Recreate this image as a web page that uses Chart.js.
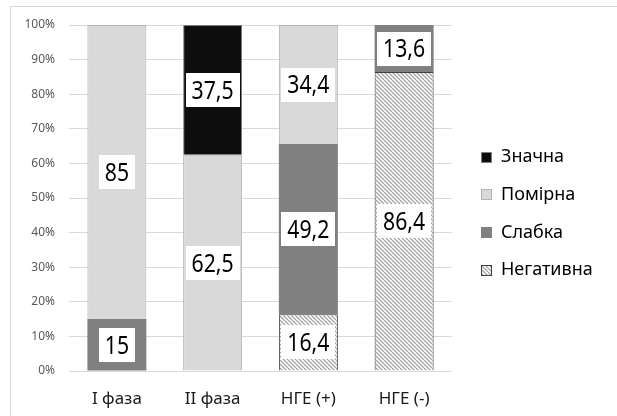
<!DOCTYPE html>
<html>
<head>
<meta charset="utf-8">
<script src="https://cdn.jsdelivr.net/npm/chart.js@4/dist/chart.umd.min.js"></script>
<style>
  html, body { margin: 0; padding: 0; background: #fff; }
  #c { display: block; }
</style>
</head>
<body>
<canvas id="c" width="617" height="416"></canvas>
<script>
// Categories (x axis)
const categories = ['I фаза', 'II фаза', 'НГЕ (+)', 'НГЕ (-)'];

// Share of each response level per group, %
const negative = [0, 0, 16.4, 86.4];
const weak     = [15, 0, 49.2, 13.6];
const moderate = [85, 62.5, 34.4, 0];
const strong   = [0, 37.5, 0, 0];

// Series names, bottom of stack first
const seriesNames = ['Негативна', 'Слабка', 'Помірна', 'Значна'];

// Value axis range
const yMin = 0;
const yMax = 100;
const yStep = 10;

const FONT = '"Noto Sans", "Open Sans", sans-serif';

// Diagonal hatch fill for the "Негативна" series
function makeHatch(ctx) {
  const t = document.createElement('canvas');
  t.width = 8; t.height = 8;
  const g = t.getContext('2d');
  g.fillStyle = '#ffffff';
  g.fillRect(0, 0, 8, 8);
  g.strokeStyle = '#a6a6a6';
  g.lineWidth = 1.3;
  for (let c = -8; c <= 8; c += 4) {
    g.beginPath();
    g.moveTo(0, c);
    g.lineTo(8, c + 8);
    g.stroke();
  }
  return ctx.createPattern(t, 'repeat');
}

const canvas = document.getElementById('c');
const ctx = canvas.getContext('2d');
const hatch = makeHatch(ctx);

// Light frame around the figure
const framePlugin = {
  id: 'frame',
  beforeDraw(chart) {
    const c = chart.ctx;
    c.save();
    c.fillStyle = '#ffffff';
    c.fillRect(0, 0, chart.width, chart.height);
    c.strokeStyle = '#d9d9d9';
    c.lineWidth = 1;
    c.strokeRect(10.5, 6.5, chart.width + 20, chart.height + 20);
    c.restore();
  }
};

// Value labels in white boxes at the middle of each segment
// (text is drawn slightly condensed horizontally)
const valueLabels = {
  id: 'valueLabels',
  afterDatasetsDraw(chart) {
    const c = chart.ctx;
    const size = 25;
    const squeeze = 0.85;
    c.save();
    c.font = size + 'px ' + FONT;
    c.textAlign = 'center';
    c.textBaseline = 'alphabetic';
    chart.data.datasets.forEach((ds, di) => {
      const meta = chart.getDatasetMeta(di);
      meta.data.forEach((bar, i) => {
        const v = ds.data[i];
        if (!v) return;
        const txt = String(v).replace('.', ',');
        const w = c.measureText(txt).width * squeeze + 12;
        const h = 34;
        const cx = bar.x;
        const cy = (bar.y + bar.base) / 2;
        c.fillStyle = '#ffffff';
        c.fillRect(Math.round(cx - w / 2), Math.round(cy - h / 2), Math.round(w), h);
        c.save();
        c.translate(cx, cy + size * 0.714 / 2);
        c.scale(squeeze, 1);
        c.fillStyle = '#000000';
        c.fillText(txt, 0, 0);
        c.restore();
      });
    });
    c.restore();
  }
};

// Legend on the right, top series first
const sideLegend = {
  id: 'sideLegend',
  afterDraw(chart) {
    const c = chart.ctx;
    const x0 = chart.chartArea.right + 29;
    const y0 = 157;
    const step = 37.7;
    const box = 11;
    c.save();
    c.font = '18px ' + FONT;
    c.textBaseline = 'middle';
    c.textAlign = 'left';
    const items = chart.data.datasets.slice().reverse();
    items.forEach((ds, k) => {
      const cy = y0 + k * step;
      c.fillStyle = ds.backgroundColor;
      c.fillRect(x0, Math.round(cy - box / 2), box, box);
      c.strokeStyle = ds.borderColor;
      c.lineWidth = 1;
      c.strokeRect(x0 + 0.5, Math.round(cy - box / 2) + 0.5, box - 1, box - 1);
      c.fillStyle = '#000000';
      c.fillText(ds.label, x0 + 20, cy);
    });
    c.restore();
  }
};

new Chart(ctx, {
  type: 'bar',
  data: {
    labels: categories,
    datasets: [
      { label: seriesNames[0], data: negative, backgroundColor: hatch, borderColor: '#404040', borderWidth: 1 },
      { label: seriesNames[1], data: weak, backgroundColor: '#808080', borderColor: '#808080', borderWidth: 0 },
      { label: seriesNames[2], data: moderate, backgroundColor: '#d9d9d9', borderColor: '#b3b3b3', borderWidth: 1 },
      { label: seriesNames[3], data: strong, backgroundColor: '#0d0d0d', borderColor: '#7f7f7f', borderWidth: 1 }
    ]
  },
  options: {
    responsive: false,
    animation: false,
    devicePixelRatio: 1,
    layout: { padding: { left: 10, top: 25, right: 165, bottom: 6 } },
    datasets: { bar: { categoryPercentage: 1, barPercentage: 0.616 } },
    plugins: {
      legend: { display: false },
      tooltip: { enabled: false }
    },
    scales: {
      x: {
        stacked: true,
        grid: { display: false },
        border: { display: false },
        ticks: { color: '#1a1a1a', font: { family: FONT, size: 17 }, padding: 10, maxRotation: 0 },
        afterFit(scale) { scale.height = 39; }
      },
      y: {
        stacked: true,
        min: yMin,
        max: yMax,
        grid: { color: '#d9d9d9', drawTicks: false },
        border: { display: false },
        ticks: {
          stepSize: yStep,
          padding: 14,
          color: '#595959',
          font: { family: FONT, size: 12 },
          callback: v => v + '%'
        },
        afterFit(scale) { scale.width = 59; }
      }
    }
  },
  plugins: [framePlugin, valueLabels, sideLegend]
});
</script>
</body>
</html>
